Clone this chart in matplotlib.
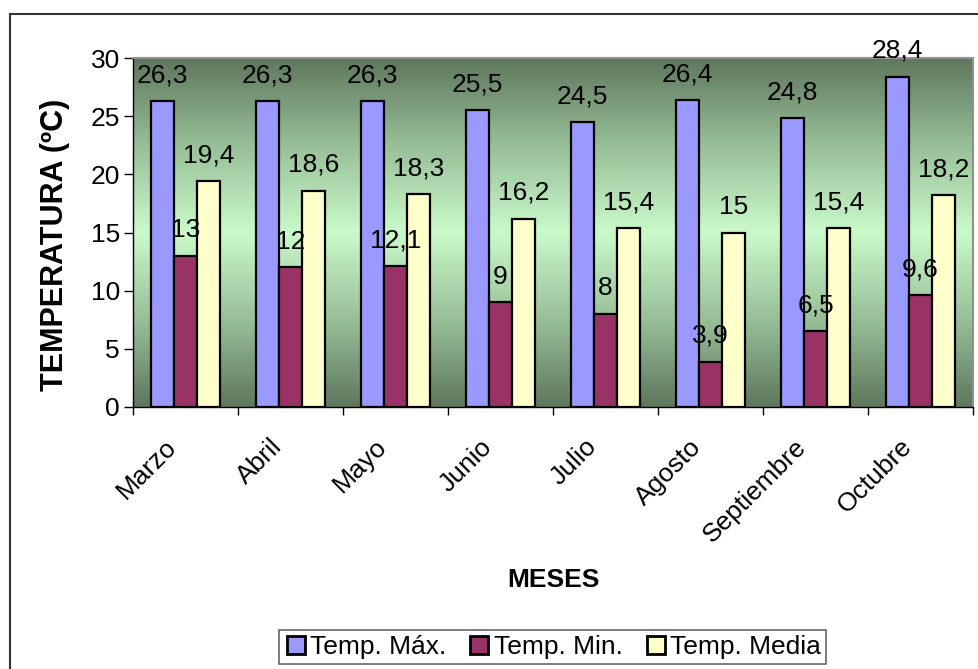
import numpy as np
import matplotlib
matplotlib.use('Agg')
import matplotlib.pyplot as plt
from matplotlib.colors import LinearSegmentedColormap
from matplotlib.lines import Line2D

plt.rcParams['font.family'] = ['Liberation Sans', 'DejaVu Sans']

meses = ['Marzo', 'Abril', 'Mayo', 'Junio', 'Julio', 'Agosto', 'Septiembre', 'Octubre']
temp_max = [26.3, 26.3, 26.3, 25.5, 24.5, 26.4, 24.8, 28.4]
temp_min = [13, 12, 12.1, 9, 8, 3.9, 6.5, 9.6]
temp_media = [19.4, 18.6, 18.3, 16.2, 15.4, 15, 15.4, 18.2]

SERIES = [
    ('Temp. Máx.', temp_max, '#9999FF'),
    ('Temp. Min.', temp_min, '#993366'),
    ('Temp. Media', temp_media, '#FFFFCC'),
]

FS = 19


def fmt(v):
    s = f'{v:g}'
    return s.replace('.', ',')


W, H = 979, 669
fig = plt.figure(figsize=(W / 100, H / 100), dpi=100)
ax = fig.add_axes([133 / W, 1 - 407 / H, 840 / W, 349 / H])

n = len(meses)
ax.set_xlim(0, n)
ax.set_ylim(0, 30)

# green background: dark at the edges, light in the middle
grad_cmap = LinearSegmentedColormap.from_list(
    'bg', ['#5e775e', '#98bf98', '#cafaca', '#98bf98', '#5e775e'])
grad = np.linspace(0, 1, 256).reshape(-1, 1)
ax.imshow(grad, cmap=grad_cmap, aspect='auto', extent=(0, n, 0, 30),
          origin='lower', zorder=0)

bar_w = 23 / 105
x = np.arange(n) + 0.5
for i, (name, vals, color) in enumerate(SERIES):
    xs = x + (i - 1) * bar_w
    ax.bar(xs, vals, width=bar_w, color=color, edgecolor='black',
           linewidth=1.6, zorder=2, label=name)
    for xi, v in zip(xs, vals):
        ax.annotate(fmt(v), (xi, v), xytext=(0, 13.5), textcoords='offset points',
                    ha='center', va='baseline', fontsize=FS, zorder=5,
                    annotation_clip=False)

ax.set_yticks(range(0, 31, 5))
ax.tick_params(axis='y', direction='out', length=6.5, width=1, labelsize=FS, pad=3)
ax.set_xticks(np.arange(n + 1))
ax.set_xticklabels([])
ax.tick_params(axis='x', which='major', direction='out', length=6, width=1)
ax.set_xticks(x - 0.12, minor=True)
ax.set_xticklabels(meses, minor=True, rotation=45, ha='right', va='center',
                   rotation_mode='anchor', fontsize=FS)
ax.tick_params(axis='x', which='minor', length=0, pad=26)

for side in ['top', 'right']:
    ax.spines[side].set_color('#909090')
    ax.spines[side].set_linewidth(1.5)
for side in ['left', 'bottom']:
    ax.spines[side].set_color('black')
    ax.spines[side].set_linewidth(1)

fig.text(54.5 / W, 1 - 245 / H, 'TEMPERATURA (ºC)', fontsize=22, fontweight='bold',
         rotation=90, ha='center', va='center')
fig.text(553 / W, 1 - 580 / H, 'MESES', fontsize=FS, fontweight='bold',
         ha='center', va='center')

handles = [Line2D([], [], linestyle='none', marker='s', markersize=13,
                  markerfacecolor=c, markeredgecolor='black', markeredgewidth=2)
           for _, _, c in SERIES]
leg = fig.legend(handles, [s[0] for s in SERIES], loc='center',
                 bbox_to_anchor=(552.5 / W, 1 - 647 / H), ncol=3, fontsize=FS,
                 frameon=True, fancybox=False, handletextpad=0.1,
                 columnspacing=0.8, borderpad=0.2, handlelength=0.9)
leg.get_frame().set_edgecolor('#404040')
leg.get_frame().set_linewidth(1.2)

# outer chart frame
fig.add_artist(Line2D([10 / W, 10 / W], [0, 1 - 14 / H], color='#333333', lw=1.5))
fig.add_artist(Line2D([10 / W, 1], [1 - 14 / H, 1 - 14 / H], color='#333333', lw=1.5))

fig.savefig('out.png', dpi=100)
